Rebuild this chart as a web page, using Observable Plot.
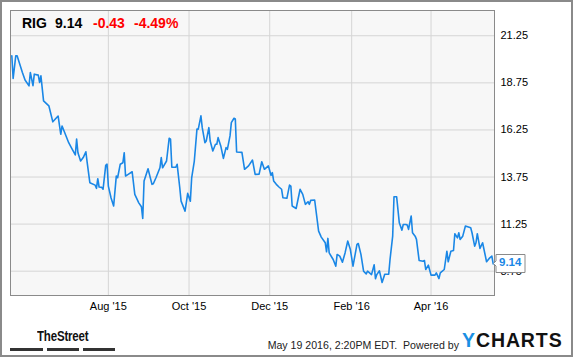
<!DOCTYPE html>
<html>
<head>
<meta charset="utf-8">
<script src="https://cdn.jsdelivr.net/npm/d3@7"></script>
<script src="https://cdn.jsdelivr.net/npm/@observablehq/plot@0.6"></script>
<style>
  html, body { margin: 0; padding: 0; background: #fff; }
  #wrap { position: relative; width: 575px; height: 358px; overflow: hidden; font-family: "Liberation Sans", Arial, sans-serif; }
  #border { position: absolute; left: 0; top: 0; width: 573px; height: 357px; box-sizing: border-box; border: 2px solid #8a8a8a; pointer-events: none; }
  #chart { position: absolute; left: 0; top: 0; }
  .hdr { position: absolute; top: 14px; font-size: 14px; font-weight: bold; line-height: 18px; white-space: nowrap; }
  .valtip { color: #1a87e6; }
  #street { position: absolute; left: 37px; top: 328px; font-size: 14px; font-weight: bold; color: #111; transform: scaleX(0.82); transform-origin: left top; letter-spacing: -0.2px; }
  .bar { position: absolute; top: 348px; height: 3px; background: #333; }
  #stamp { position: absolute; right: 116px; top: 339px; font-size: 10.6px; color: #222; white-space: nowrap; }
  #ych { position: absolute; left: 462px; top: 329px; font-size: 19.5px; font-weight: bold; color: #111; white-space: nowrap; letter-spacing: 0.9px; }
  #ych span { color: #1a8fe3; }
</style>
</head>
<body>
<div id="wrap">
  <div id="chart"></div>
  <div class="hdr" style="left:22px;color:#000">RIG</div>
  <div class="hdr" style="left:55px;color:#000">9.14</div>
  <div class="hdr" style="left:93px;color:#f00">-0.43</div>
  <div class="hdr" style="left:134px;color:#f00">-4.49%</div>
  <div id="street">TheStreet</div>
  <div class="bar" style="left:10px;width:33px"></div>
  <div class="bar" style="left:47px;width:32px"></div>
  <div class="bar" style="left:83px;width:32px"></div>
  <div id="stamp">May 19 2016, 2:20PM EDT.&nbsp; Powered by</div>
  <div id="ych"><span>Y</span>CHARTS</div>
  <div id="border"></div>
</div>
<script>
const dates = [
"2015-05-20","2015-05-21","2015-05-23","2015-05-24","2015-05-28","2015-05-30","2015-06-02","2015-06-03","2015-06-05","2015-06-06",
"2015-06-09","2015-06-10","2015-06-11","2015-06-13","2015-06-17","2015-06-20","2015-06-24","2015-06-26","2015-06-27","2015-06-30",
"2015-07-02","2015-07-04","2015-07-07","2015-07-08","2015-07-09","2015-07-11","2015-07-13","2015-07-15","2015-07-16","2015-07-18",
"2015-07-22","2015-07-23","2015-07-24","2015-07-25","2015-07-27","2015-07-28","2015-07-30","2015-07-31","2015-08-01","2015-08-03",
"2015-08-05","2015-08-07","2015-08-08","2015-08-10","2015-08-12","2015-08-13","2015-08-14","2015-08-16","2015-08-19","2015-08-21",
"2015-08-24","2015-08-26","2015-08-27","2015-08-28","2015-08-31","2015-09-03","2015-09-04","2015-09-06","2015-09-09","2015-09-10",
"2015-09-11","2015-09-14","2015-09-16","2015-09-17","2015-09-18","2015-09-21","2015-09-22","2015-09-24","2015-09-25","2015-09-28",
"2015-09-30","2015-10-02","2015-10-03","2015-10-05","2015-10-07","2015-10-08","2015-10-10","2015-10-11","2015-10-13","2015-10-14",
"2015-10-16","2015-10-17","2015-10-19","2015-10-21","2015-10-22","2015-10-23","2015-10-25","2015-10-27","2015-10-29","2015-10-30",
"2015-11-01","2015-11-02","2015-11-04","2015-11-05","2015-11-06","2015-11-10","2015-11-12","2015-11-15","2015-11-18","2015-11-20",
"2015-11-23","2015-11-25","2015-11-27","2015-11-30","2015-12-02","2015-12-03","2015-12-04","2015-12-06","2015-12-08","2015-12-10",
"2015-12-11","2015-12-14","2015-12-16","2015-12-17","2015-12-18","2015-12-21","2015-12-24","2015-12-26","2015-12-28","2015-12-30",
"2015-12-31","2016-01-01","2016-01-04","2016-01-07","2016-01-09","2016-01-12","2016-01-13","2016-01-14","2016-01-15","2016-01-18",
"2016-01-20","2016-01-21","2016-01-23","2016-01-25","2016-01-27","2016-01-29","2016-01-31","2016-02-02","2016-02-05","2016-02-06",
"2016-02-08","2016-02-10","2016-02-12","2016-02-13","2016-02-16","2016-02-18","2016-02-19","2016-02-20","2016-02-22","2016-02-24",
"2016-02-26","2016-02-29","2016-03-01","2016-03-03","2016-03-04","2016-03-06","2016-03-08","2016-03-10","2016-03-11","2016-03-13",
"2016-03-14","2016-03-15","2016-03-17","2016-03-18","2016-03-20","2016-03-21","2016-03-23","2016-03-26","2016-03-27","2016-03-28",
"2016-03-30","2016-04-01","2016-04-04","2016-04-05","2016-04-07","2016-04-08","2016-04-11","2016-04-13","2016-04-14","2016-04-16",
"2016-04-18","2016-04-19","2016-04-21","2016-04-22","2016-04-23","2016-04-25","2016-04-27","2016-05-01","2016-05-02","2016-05-04",
"2016-05-05","2016-05-06","2016-05-08","2016-05-10","2016-05-13","2016-05-15","2016-05-17","2016-05-18"
];
const prices = [
20.19,18.98,20.19,20.19,19.30,18.90,18.59,19.30,18.60,19.21,
19.16,18.77,19.12,17.79,17.53,16.68,16.99,16.02,16.46,15.93,
15.57,15.31,14.92,15.76,15.04,14.60,14.78,15.09,14.51,13.45,
13.32,13.15,13.66,13.22,13.20,13.10,14.37,14.43,13.27,12.65,
12.21,13.80,13.71,14.43,14.51,15.04,13.80,13.89,14.03,12.83,
12.38,12.17,11.55,13.54,14.19,13.36,13.39,13.71,14.24,14.78,
14.24,14.60,15.81,15.76,14.27,14.27,14.43,13.18,12.47,11.94,
12.88,12.47,13.71,14.60,16.29,16.29,17.00,16.37,15.57,15.66,
16.37,15.66,15.13,15.49,15.49,15.84,15.40,14.74,15.31,15.22,
15.93,16.64,16.87,16.83,15.08,15.06,14.16,14.34,14.65,13.89,
13.90,14.56,14.16,14.34,13.84,13.98,13.54,13.36,13.22,13.10,
12.65,12.62,13.32,13.27,12.21,12.08,13.10,12.83,12.30,12.44,
12.30,12.51,12.53,10.88,10.56,10.26,9.78,10.49,9.72,9.37,
9.02,9.64,9.55,9.23,9.72,10.35,9.90,9.02,10.17,10.22,
9.64,8.75,8.61,8.75,8.57,9.09,8.35,8.57,8.77,8.15,
8.59,8.59,9.37,10.61,12.70,12.70,11.32,10.93,11.23,11.23,
11.20,10.97,11.68,10.79,10.61,10.44,9.32,9.28,9.32,8.84,
9.07,8.54,8.54,8.66,8.36,8.66,8.84,9.81,9.25,9.81,
9.85,10.74,10.52,10.79,10.44,10.61,11.15,11.06,10.79,10.08,
10.26,10.74,9.96,10.26,9.25,9.43,9.55,9.14
];
const yTicks = [8.75, 11.25, 13.75, 16.25, 18.75, 21.25];
const xTickDates = ["2015-08-01", "2015-10-01", "2015-12-01", "2016-02-01", "2016-04-01"];
const xDomain = ["2015-05-19", "2016-05-19"];
const yDomain = [7.46, 22.59];

const data = dates.map((d, i) => ({date: new Date(d), price: prices[i]}));
const last = data[data.length - 1];
const fmtX = d3.utcFormat("%b '%y");

const chart = Plot.plot({
  width: 575,
  height: 358,
  marginLeft: 10,
  marginRight: 81,
  marginTop: 10,
  marginBottom: 63,
  style: {fontFamily: "'Liberation Sans', Arial, sans-serif", fontSize: "11px", color: "#000", background: "transparent"},
  x: {type: "utc", domain: xDomain.map(d => new Date(d)), label: null},
  y: {domain: yDomain, label: null},
  marks: [
    Plot.frame({fill: "#f7f7f7", stroke: null}),
    Plot.gridX({ticks: xTickDates.map(d => new Date(d)), stroke: "#d5d5d5", strokeOpacity: 1}),
    Plot.gridY({ticks: yTicks, stroke: "#d5d5d5", strokeOpacity: 1}),
    Plot.axisX({ticks: xTickDates.map(d => new Date(d)), tickSize: 0, tickPadding: 7, tickFormat: fmtX, fontSize: 11, label: null}),
    Plot.axisY({anchor: "right", ticks: yTicks, tickSize: 0, tickPadding: 6, tickFormat: d => d.toFixed(2), fontSize: 11, label: null}),
    Plot.lineY(data, {x: "date", y: "price", stroke: "#1a87e6", strokeWidth: 1.6}),
    Plot.frame({stroke: "#8a8a8a"}),
    Plot.tip([last], {
      x: "date", y: "price", title: d => d.price.toFixed(2), anchor: "left",
      fill: "white", stroke: "#8a8a8a", pointerSize: 5, textPadding: 3,
      fontSize: 11.5, fontWeight: "bold", pathFilter: "none", className: "valtip"
    })
  ]
});
document.getElementById("chart").appendChild(chart);
</script>
</body>
</html>
